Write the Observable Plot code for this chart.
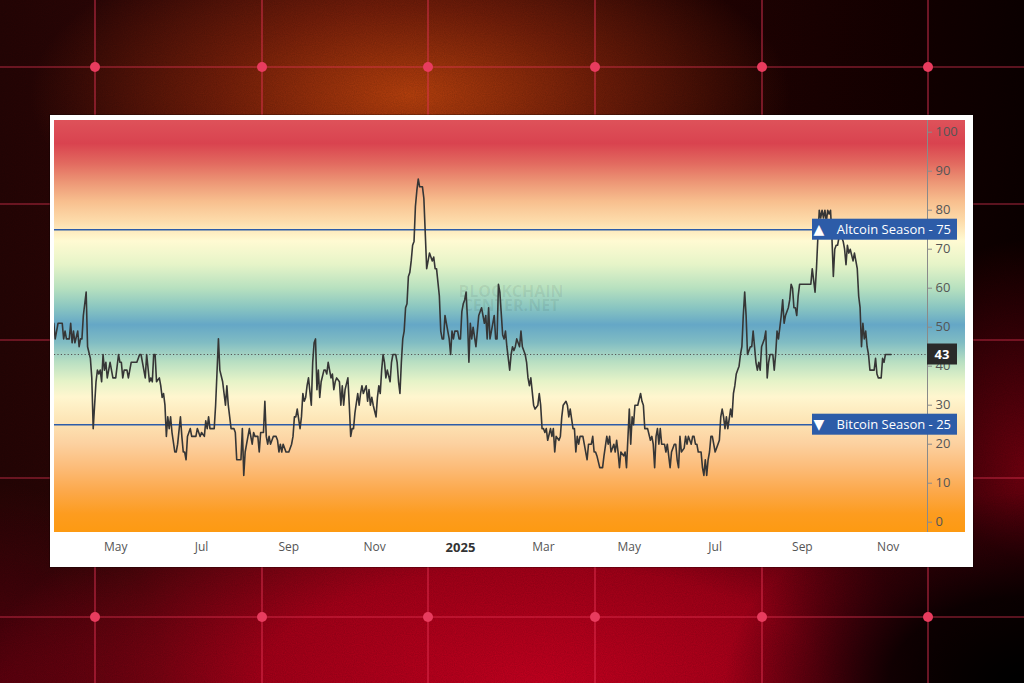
<!DOCTYPE html>
<html>
<head>
<meta charset="utf-8">
<script src="https://cdn.jsdelivr.net/npm/d3@7"></script>
<script src="https://cdn.jsdelivr.net/npm/@observablehq/plot@0.6"></script>
<style>
  html, body { margin:0; padding:0; width:1024px; height:683px; overflow:hidden; background:#1a0303; }
  #bg { position:absolute; left:0; top:0; width:1024px; height:683px;
    background:
      radial-gradient(ellipse 300px 190px at 1024px 683px, rgba(0,0,0,1) 0%, rgba(0,0,0,0.85) 45%, rgba(0,0,0,0) 100%),
      radial-gradient(ellipse 380px 170px at 410px 95px, rgba(196,70,14,0.92) 0%, rgba(170,50,12,0.55) 50%, rgba(150,30,10,0) 100%),
      radial-gradient(ellipse 560px 230px at 540px 683px, rgba(200,0,32,1) 0%, rgba(185,0,28,0.85) 50%, rgba(150,0,20,0) 100%),
      radial-gradient(ellipse 160px 230px at 1024px 470px, rgba(130,0,18,0.85), rgba(0,0,0,0) 100%),
      radial-gradient(ellipse 160px 200px at 0px 683px, rgba(100,0,15,0.8), rgba(0,0,0,0) 100%),
      linear-gradient(90deg, #260505 0%, #3a0808 35%, #220303 70%, #0c0000 100%);
  }
  #backdrop { position:absolute; left:0; top:0; }
  #panel { position:absolute; left:50px; top:115px; width:923px; height:452px; background:#fff; box-shadow:0 0 0 1px rgba(0,0,0,0.25); }
  #chart { position:absolute; left:54px; top:120px; }
</style>
</head>
<body>
<div id="bg"></div>
<svg id="backdrop" width="1024" height="683"></svg>
<div id="panel"></div>
<div id="chart"></div>
<script>
// ---------------- DATA ----------------
const points2024 = [
["2024-03-18",51],["2024-03-19",47],["2024-03-21",51],["2024-03-24",51],["2024-03-25",47],["2024-03-26",49],["2024-03-27",47],["2024-03-29",47],["2024-03-30",51],["2024-03-31",46],
["2024-04-01",49],["2024-04-02",46],["2024-04-04",49],["2024-04-05",45],["2024-04-06",47],["2024-04-07",47],["2024-04-08",53],["2024-04-10",59],["2024-04-11",45],["2024-04-13",42],
["2024-04-14",37],["2024-04-15",24],["2024-04-17",36],["2024-04-18",39],["2024-04-19",38],["2024-04-20",39],["2024-04-21",36],["2024-04-22",43],["2024-04-23",39],["2024-04-24",41],
["2024-04-25",37],["2024-04-27",41],["2024-04-28",39],["2024-04-29",37],["2024-05-01",37],["2024-05-03",43],["2024-05-04",41],["2024-05-05",41],["2024-05-06",37],["2024-05-07",39],
["2024-05-09",39],["2024-05-10",37],["2024-05-12",41],["2024-05-14",41],["2024-05-16",41],["2024-05-17",42],["2024-05-18",43],["2024-05-19",43],["2024-05-20",41],["2024-05-22",37],
["2024-05-23",43],["2024-05-25",36],["2024-05-26",37],["2024-05-27",36],["2024-05-28",43],["2024-05-29",43],["2024-05-30",36],["2024-06-01",37],["2024-06-02",35],["2024-06-03",32],
["2024-06-04",33],["2024-06-05",30],["2024-06-06",22],["2024-06-07",27],["2024-06-08",24],["2024-06-09",27],["2024-06-10",23],["2024-06-12",18],["2024-06-13",18],["2024-06-14",20],
["2024-06-16",27],["2024-06-17",22],["2024-06-18",18],["2024-06-19",18],["2024-06-20",16],["2024-06-21",22],["2024-06-23",24],["2024-06-24",22],["2024-06-25",22],["2024-06-27",22],
["2024-06-28",24],["2024-06-30",22],["2024-07-01",23],["2024-07-03",22],["2024-07-04",26],["2024-07-05",24],["2024-07-06",27],["2024-07-07",24],["2024-07-10",24],["2024-07-11",30],
["2024-07-13",47],["2024-07-14",39],["2024-07-16",36],["2024-07-17",33],["2024-07-18",30],["2024-07-19",35],["2024-07-20",30],["2024-07-22",24],["2024-07-24",24],["2024-07-25",23],
["2024-07-26",16],["2024-07-29",16],["2024-07-30",24],["2024-07-31",12],["2024-08-01",18],["2024-08-02",20],["2024-08-04",24],["2024-08-05",22],["2024-08-06",20],["2024-08-07",23],
["2024-08-08",22],["2024-08-10",22],["2024-08-11",18],["2024-08-12",23],["2024-08-14",23],["2024-08-15",31],["2024-08-16",22],["2024-08-17",20],["2024-08-18",22],["2024-08-19",20],
["2024-08-21",22],["2024-08-23",22],["2024-08-24",21],["2024-08-25",18],["2024-08-26",20],["2024-08-27",18],["2024-08-28",20],["2024-08-30",18],["2024-09-01",18],["2024-09-03",20],
["2024-09-04",22],["2024-09-05",27],["2024-09-06",27],["2024-09-07",29],["2024-09-09",24],["2024-09-10",27],["2024-09-11",33],["2024-09-12",31],["2024-09-13",32],["2024-09-14",35],
["2024-09-15",37],["2024-09-17",30],["2024-09-18",41],["2024-09-19",46],["2024-09-20",47],["2024-09-21",34],["2024-09-22",39],["2024-09-23",32],["2024-09-24",36],["2024-09-26",39],
["2024-09-27",39],["2024-09-28",38],["2024-09-29",41],["2024-10-01",37],["2024-10-02",38],["2024-10-03",34],["2024-10-04",36],["2024-10-05",37],["2024-10-07",36],["2024-10-08",30],
["2024-10-09",35],["2024-10-10",30],["2024-10-11",34],["2024-10-13",37],["2024-10-14",30],["2024-10-15",22],["2024-10-16",24],["2024-10-17",24],["2024-10-18",28],["2024-10-20",33],
["2024-10-21",30],["2024-10-22",33],["2024-10-23",35],["2024-10-24",33],["2024-10-26",35],["2024-10-27",31],["2024-10-28",34],["2024-10-29",30],["2024-10-30",32],["2024-10-31",30],
["2024-11-02",27],["2024-11-03",32],["2024-11-04",35],["2024-11-05",33],["2024-11-06",39],["2024-11-07",43],["2024-11-08",41],["2024-11-09",37],["2024-11-10",39],["2024-11-12",36],
["2024-11-13",41],["2024-11-14",43],["2024-11-16",43],["2024-11-17",41],["2024-11-18",36],["2024-11-19",33],["2024-11-20",41],["2024-11-21",47],["2024-11-22",49],["2024-11-23",55],
["2024-11-24",56],["2024-11-25",63],["2024-11-26",64],["2024-11-27",67],["2024-11-28",71],["2024-11-29",72],["2024-11-30",81],["2024-12-01",85],["2024-12-02",88],["2024-12-03",86],
["2024-12-05",86],["2024-12-06",83],["2024-12-07",74],["2024-12-08",65],["2024-12-09",67],["2024-12-10",69],["2024-12-12",67],["2024-12-13",68],["2024-12-14",65],["2024-12-15",65],
["2024-12-17",58],["2024-12-18",49],["2024-12-19",47],["2024-12-20",47],["2024-12-21",53],["2024-12-23",49],["2024-12-24",47],["2024-12-25",43],["2024-12-26",49],["2024-12-27",47],
["2024-12-28",49],["2024-12-30",49],["2024-12-31",47]
];
const points2025 = [
["2025-01-01",47],["2025-01-02",54],["2025-01-03",56],["2025-01-04",57],["2025-01-05",59],["2025-01-06",52],["2025-01-07",41],["2025-01-08",51],["2025-01-09",47],["2025-01-10",50],
["2025-01-12",45],["2025-01-13",49],["2025-01-14",53],["2025-01-16",55],["2025-01-17",53],["2025-01-18",51],["2025-01-19",53],["2025-01-20",47],["2025-01-21",55],["2025-01-22",47],
["2025-01-24",51],["2025-01-25",53],["2025-01-26",47],["2025-01-27",47],["2025-01-28",61],["2025-01-29",59],["2025-01-31",48],["2025-02-01",47],["2025-02-02",49],["2025-02-03",45],
["2025-02-05",39],["2025-02-06",43],["2025-02-07",45],["2025-02-08",44],["2025-02-09",45],["2025-02-10",47],["2025-02-12",45],["2025-02-13",49],["2025-02-14",45],["2025-02-16",43],
["2025-02-17",41],["2025-02-18",37],["2025-02-19",35],["2025-02-20",37],["2025-02-22",30],["2025-02-23",29],["2025-02-25",30],["2025-02-26",33],["2025-02-27",30],["2025-02-28",24],
["2025-03-01",24],["2025-03-02",23],["2025-03-03",24],["2025-03-04",21],["2025-03-06",24],["2025-03-07",22],["2025-03-08",24],["2025-03-09",18],["2025-03-10",22],["2025-03-12",21],
["2025-03-13",22],["2025-03-14",27],["2025-03-15",30],["2025-03-17",31],["2025-03-18",30],["2025-03-19",27],["2025-03-20",29],["2025-03-22",24],["2025-03-23",24],["2025-03-24",18],
["2025-03-25",22],["2025-03-26",20],["2025-03-27",22],["2025-03-28",22],["2025-03-29",22],["2025-03-30",20],["2025-04-01",16],["2025-04-02",20],["2025-04-04",20],["2025-04-05",22],
["2025-04-06",18],["2025-04-07",18],["2025-04-08",17],["2025-04-10",14],["2025-04-12",14],["2025-04-13",17],["2025-04-15",22],["2025-04-16",20],["2025-04-17",22],["2025-04-18",18],
["2025-04-20",20],["2025-04-21",18],["2025-04-22",21],["2025-04-23",18],["2025-04-24",14],["2025-04-25",18],["2025-04-27",17],["2025-04-28",18],["2025-04-29",14],["2025-05-01",29],
["2025-05-02",20],["2025-05-03",27],["2025-05-04",25],["2025-05-05",30],["2025-05-07",30],["2025-05-09",33],["2025-05-10",31],["2025-05-11",30],["2025-05-12",24],["2025-05-13",24],
["2025-05-14",24],["2025-05-16",21],["2025-05-17",22],["2025-05-18",20],["2025-05-19",14],["2025-05-20",22],["2025-05-21",24],["2025-05-22",20],["2025-05-23",24],["2025-05-24",20],
["2025-05-26",20],["2025-05-27",18],["2025-05-28",20],["2025-05-30",14],["2025-05-31",18],["2025-06-02",20],["2025-06-03",20],["2025-06-04",16],["2025-06-05",14],["2025-06-06",22],
["2025-06-07",18],["2025-06-09",19],["2025-06-10",22],["2025-06-11",20],["2025-06-12",22],["2025-06-14",20],["2025-06-15",22],["2025-06-16",22],["2025-06-17",20],["2025-06-18",20],
["2025-06-19",18],["2025-06-21",18],["2025-06-22",14],["2025-06-23",12],["2025-06-24",16],["2025-06-25",12],["2025-06-26",16],["2025-06-27",18],["2025-06-28",22],["2025-06-29",22],
["2025-06-30",20],["2025-07-01",18],["2025-07-03",20],["2025-07-04",21],["2025-07-05",27],["2025-07-06",29],["2025-07-07",27],["2025-07-08",24],["2025-07-09",27],["2025-07-10",24],
["2025-07-12",29],["2025-07-13",27],["2025-07-14",33],["2025-07-15",35],["2025-07-16",38],["2025-07-17",39],["2025-07-18",40],["2025-07-19",43],["2025-07-20",45],["2025-07-21",53],
["2025-07-22",59],["2025-07-23",53],["2025-07-24",43],["2025-07-26",45],["2025-07-27",45],["2025-07-28",49],["2025-07-29",45],["2025-07-30",41],["2025-07-31",39],["2025-08-01",41],
["2025-08-02",39],["2025-08-03",45],["2025-08-05",47],["2025-08-06",49],["2025-08-07",37],["2025-08-08",41],["2025-08-09",43],["2025-08-11",43],["2025-08-12",39],["2025-08-13",43],
["2025-08-14",49],["2025-08-15",47],["2025-08-17",53],["2025-08-18",57],["2025-08-19",51],["2025-08-20",53],["2025-08-22",55],["2025-08-23",57],["2025-08-24",61],["2025-08-25",60],
["2025-08-26",55],["2025-08-27",55],["2025-08-28",53],["2025-08-29",58],["2025-08-30",61],["2025-09-01",61],["2025-09-03",61],["2025-09-06",61],["2025-09-07",61],["2025-09-08",65],
["2025-09-10",59],["2025-09-11",65],["2025-09-12",73],["2025-09-13",80],["2025-09-14",78],["2025-09-15",80],["2025-09-16",78],["2025-09-17",80],["2025-09-18",77],["2025-09-19",80],
["2025-09-20",79],["2025-09-21",80],["2025-09-22",73],["2025-09-23",63],["2025-09-24",70],["2025-09-25",71],["2025-09-26",71],["2025-09-27",73],["2025-09-28",75],["2025-09-29",73],
["2025-09-30",72],["2025-10-01",70],["2025-10-02",66],["2025-10-03",71],["2025-10-04",69],["2025-10-05",70],["2025-10-07",67],["2025-10-08",69],["2025-10-09",67],["2025-10-10",65],
["2025-10-11",58],["2025-10-12",55],["2025-10-13",45],["2025-10-14",51],["2025-10-15",47],["2025-10-16",49],["2025-10-17",45],["2025-10-18",43],["2025-10-19",39],["2025-10-22",39],
["2025-10-23",42],["2025-10-24",38],["2025-10-25",37],["2025-10-27",37],["2025-10-28",42],["2025-10-29",41],["2025-10-30",43],["2025-11-01",43],["2025-11-02",43],["2025-11-03",43]
];
const yTicks = [0, 10, 20, 30, 40, 50, 60, 70, 80, 90, 100];
const xTickDates = ["2024-05-01","2024-07-01","2024-09-01","2024-11-01","2025-01-01","2025-03-01","2025-05-01","2025-07-01","2025-09-01","2025-11-01"];
const xTickLabels = ["May","Jul","Sep","Nov","2025","Mar","May","Jul","Sep","Nov"];
const seasonNames = ["Altcoin Season", "Bitcoin Season"];
const seasonValues = [75, 25];
const seasonMarkers = ["▲", "▼"];
const currentValue = 43;
const watermarkLines = ["BLOCKCHAIN", "CENTER.NET"];

// ---------------- STYLE ----------------
const bandStops = [
  [103, "#de525a"], [97, "#d9434f"], [92, "#e2695f"], [87, "#ed9776"], [82, "#f8c08f"],
  [77, "#fddcab"], [72, "#fffad2"], [66, "#e6f4c8"], [60, "#b8e1bf"], [55, "#8ac6c1"],
  [50.5, "#65a7c6"], [46, "#80bcc3"], [41, "#b8dfc2"], [36, "#e6f3c8"], [32, "#fff6cf"],
  [26, "#fde5b6"], [20, "#fcd1a0"], [14, "#fcbc79"], [8, "#fca94c"], [2, "#fd9c1f"], [-3, "#fd9a12"]
];
const seasonColor = "#2d5ca8";
const font = "'Open Sans', sans-serif";

// ---------------- BACKDROP (decorative) ----------------
(function backdrop() {
  const gx = [95, 262, 428, 595, 762, 928];
  const gy = [67, 204, 340, 478, 617];
  const svg = d3.select("#backdrop");
  const defs = svg.append("defs");
  const f = defs.append("filter").attr("id", "grain").attr("x", 0).attr("y", 0).attr("width", "100%").attr("height", "100%");
  f.append("feTurbulence").attr("type", "fractalNoise").attr("baseFrequency", 0.9).attr("numOctaves", 2).attr("seed", 3);
  f.append("feColorMatrix").attr("type", "matrix").attr("values", "0 0 0 0 0  0 0 0 0 0  0 0 0 0 0  0 0 0 0.35 0");
  svg.append("rect").attr("width", 1024).attr("height", 683).attr("filter", "url(#grain)").attr("opacity", 0.5);
  const lineColor = "rgba(232,52,88,0.72)";
  gx.forEach(x => svg.append("line").attr("x1", x).attr("x2", x).attr("y1", 0).attr("y2", 683).attr("stroke", lineColor).attr("stroke-width", 1.2));
  gy.forEach(y => svg.append("line").attr("x1", 0).attr("x2", 1024).attr("y1", y).attr("y2", y).attr("stroke", lineColor).attr("stroke-width", 1.2));
  gx.forEach(x => gy.forEach(y => svg.append("circle").attr("cx", x).attr("cy", y).attr("r", 5).attr("fill", "#e83c5e")));
})();

// ---------------- CHART ----------------
const parse = d3.utcParse("%Y-%m-%d");
const series = [...points2024, ...points2025].map(([d, v]) => ({date: parse(d), value: v}));
const tickDates = xTickDates.map(parse);
const labelOf = new Map(tickDates.map((d, i) => [+d, xTickLabels[i]]));
const monthTicks = tickDates.filter(d => d.getUTCMonth() !== 0);
const yearTicks = tickDates.filter(d => d.getUTCMonth() === 0);
const seasons = seasonNames.map((name, i) => ({name, value: seasonValues[i], marker: seasonMarkers[i]}));

const W = 911, H = 445, MR = 38, MB = 33;
const xDomain = [new Date(Date.UTC(2024, 2, 18, 12)), new Date(Date.UTC(2025, 10, 28, 22))];
const yDomain = [-2.64, 103.0];

function bandBackground(index, scales, values, dims) {
  const top = dims.marginTop, bottom = dims.height - dims.marginBottom;
  const g = d3.create("svg:g");
  const grad = g.append("defs").append("linearGradient")
    .attr("id", "band-grad").attr("gradientUnits", "userSpaceOnUse")
    .attr("x1", 0).attr("x2", 0).attr("y1", top).attr("y2", bottom);
  for (const [v, c] of bandStops) {
    const o = Math.max(0, Math.min(1, (scales.y(v) - top) / (bottom - top)));
    grad.append("stop").attr("offset", o).attr("stop-color", c);
  }
  g.append("rect").attr("x", 0).attr("y", top).attr("width", dims.width).attr("height", bottom - top).attr("fill", "url(#band-grad)");
  return g.node();
}

function badges(index, scales, values, dims) {
  const g = d3.create("svg:g").attr("font-family", font);
  const right = dims.width - 8, left = right - 145;
  for (const s of seasons) {
    const y = scales.y(s.value);
    g.append("rect").attr("x", left).attr("y", y - 10.5).attr("width", right - left).attr("height", 21).attr("fill", seasonColor);
    g.append("text").attr("x", left + 7).attr("y", y).attr("dy", "0.36em").attr("fill", "#fff").attr("font-size", 14).attr("font-family", "DejaVu Sans").text(s.marker);
    g.append("text").attr("x", right - 6).attr("y", y).attr("dy", "0.36em").attr("text-anchor", "end").attr("fill", "#fff").attr("font-size", 13).attr("font-weight", 500).text(`${s.name} - ${s.value}`);
  }
  const yc = scales.y(currentValue);
  const x0 = dims.width - dims.marginRight;
  g.append("rect").attr("x", x0).attr("y", yc - 10.5).attr("width", right - x0).attr("height", 21).attr("fill", "#2a2a2a");
  g.append("text").attr("x", (x0 + right) / 2).attr("y", yc).attr("dy", "0.36em").attr("text-anchor", "middle").attr("fill", "#fff").attr("font-size", 13).attr("font-weight", "bold").text(currentValue);
  return g.node();
}

const chart = Plot.plot({
  width: W, height: H,
  marginLeft: 0, marginTop: 0, marginRight: MR, marginBottom: MB,
  style: {background: "transparent", fontFamily: font, overflow: "visible"},
  x: {type: "utc", domain: xDomain, axis: null, label: null},
  y: {domain: yDomain, axis: null, label: null},
  marks: [
    bandBackground,
    Plot.text([watermarkLines.join("\n")], {frameAnchor: "middle", dx: 20, dy: -27, fontSize: 16, fontWeight: "bold", fill: "#000", fillOpacity: 0.07, lineHeight: 0.9}),
    Plot.ruleY(seasons, {y: "value", stroke: seasonColor, strokeWidth: 1.6}),
    Plot.ruleY([currentValue], {stroke: "#555", strokeDasharray: "1.2,2.2", strokeWidth: 1}),
    Plot.line(series, {x: "date", y: "value", stroke: "#363636", strokeWidth: 1.6, clip: true}),
    Plot.ruleX([xDomain[1]], {stroke: "#8a8a8a", strokeWidth: 1}),
    Plot.axisY(yTicks, {anchor: "right", label: null, tickSize: 4, tickPadding: 4, stroke: "#8a8a8a", fill: "#555", fontSize: 13, tickFormat: d => String(d)}),
    Plot.axisX(monthTicks, {anchor: "bottom", label: null, tickSize: 0, tickPadding: 10, fill: "#555", fontSize: 12, tickFormat: d => labelOf.get(+d)}),
    Plot.axisX(yearTicks, {anchor: "bottom", label: null, tickSize: 0, tickPadding: 10, fill: "#333", fontSize: 13, fontWeight: "bold", tickFormat: d => labelOf.get(+d)}),
    badges
  ]
});
document.getElementById("chart").appendChild(chart);
</script>
</body>
</html>
